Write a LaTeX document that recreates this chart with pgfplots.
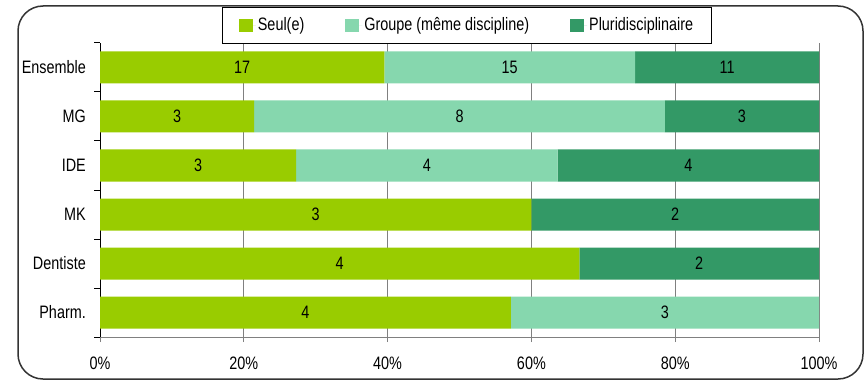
\documentclass[border=0pt]{standalone}
\usepackage{pgfplots}
\pgfplotsset{compat=1.18}
\usepackage{fontspec}
\setmainfont[FakeStretch=0.8]{Liberation Sans}
\definecolor{cSeul}{HTML}{99CC00}
\definecolor{cGroupe}{HTML}{86D7AE}
\definecolor{cPluri}{HTML}{339966}
\begin{document}
\fontsize{18bp}{21bp}\selectfont
\begin{tikzpicture}[x=1bp,y=1bp]
\useasboundingbox (0,0) rectangle (865,380);
\draw[line width=1.5bp, color=black!80, rounded corners=25bp] (18,1) rectangle (863,374);
\begin{axis}[
  at={(100bp,43bp)}, anchor=south west,
  scale only axis, width=719bp, height=294bp,
  xbar stacked, bar width=32bp,
  xmin=0, xmax=100, ymin=-0.5, ymax=5.5,
  axis x line*=bottom, axis y line*=left,
  x axis line style={draw=gray, line width=1bp},
  y axis line style={draw=black, line width=1bp},
  tick align=outside,
  major tick length=5bp, minor tick length=6bp,
  xtick={0,20,40,60,80}, extra x ticks={100},
  xticklabel={\pgfmathprintnumber[assume math mode=true]{\tick}\%},
  extra x tick style={major grid style={black, line width=1bp}},
  xtick style={draw=gray, line width=1bp},
  xmajorgrids=true,
  major x grid style={gray, line width=1bp},
  xticklabel style={yshift=-9bp},
  ytick={0,...,5},
  yticklabels={Pharm.,Dentiste,MK,IDE,MG,Ensemble},
  ytick style={draw=none},
  minor ytick={-0.5,0.5,...,5.5},
  minor y tick style={draw=black, line width=1bp},
  yticklabel style={xshift=-3bp},
  nodes near coords,
  point meta=explicit symbolic,
  every node near coord/.append style={black},
  legend columns=3,
  legend cell align=left,
  legend style={at={(rel axis cs:0.5105,1.1224)}, anchor=north, draw=black, line width=0.8bp, fill=white,
    inner xsep=16bp, inner ysep=8bp,
    nodes={inner xsep=2bp},
    /tikz/every even column/.append style={column sep=39bp}},
  legend image code/.code={\fill[#1] (0bp,-6.5bp) rectangle (14bp,6.5bp); \path (0bp,0bp) -- (17bp,0bp);},
]
\addplot[fill=cSeul, draw=none] coordinates {(57.143,0) [4] (66.667,1) [4] (60,2) [3] (27.273,3) [3] (21.429,4) [3] (39.535,5) [17]};
\addplot[fill=cGroupe, draw=none] coordinates {(42.857,0) [3] (0,1) [{}] (0,2) [{}] (36.364,3) [4] (57.143,4) [8] (34.884,5) [15]};
\addplot[fill=cPluri, draw=none] coordinates {(0,0) [{}] (33.333,1) [2] (40,2) [2] (36.363,3) [4] (21.428,4) [3] (25.581,5) [11]};
\legend{Seul(e),Groupe (même discipline),Pluridisciplinaire}
\end{axis}
\end{tikzpicture}
\end{document}
